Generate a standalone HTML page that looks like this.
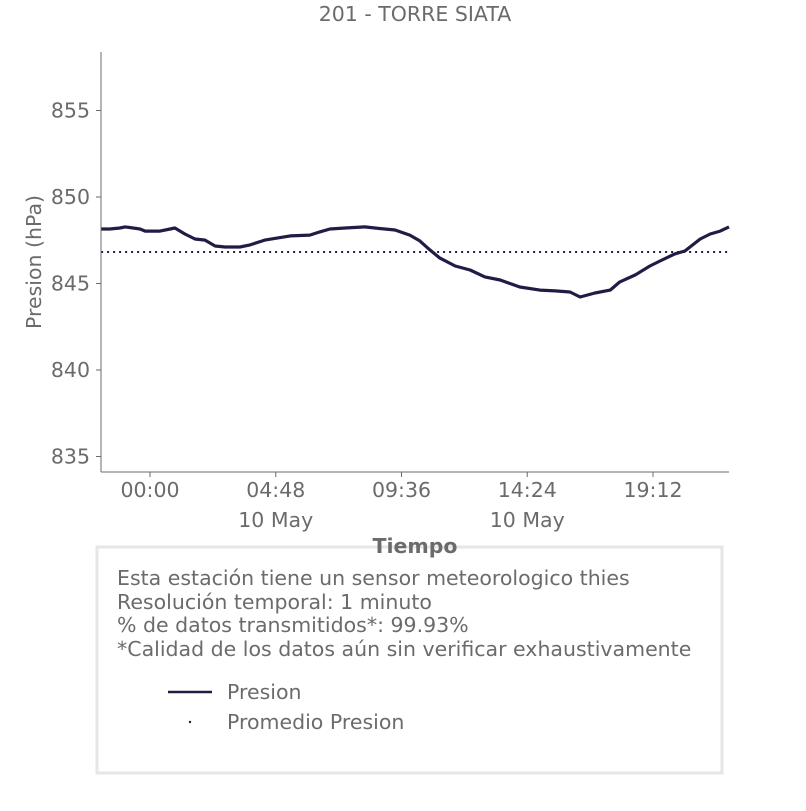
<!DOCTYPE html>
<html><head><meta charset="utf-8"><style>
body{margin:0;background:#fff;}
svg text{font-family:"DejaVu Sans","Liberation Sans",sans-serif;fill:#6b6b6b;}
</style></head><body>
<svg width="806" height="806" viewBox="0 0 806 806">
<text x="415" y="21" font-size="20.5" text-anchor="middle">201 - TORRE SIATA</text>
<g id="plot"></g>
<g id="axes"></g>
<text transform="translate(41,262) rotate(-90)" font-size="20.5" text-anchor="middle">Presion (hPa)</text>
<rect x="97" y="547" width="625" height="226" fill="#fff" stroke="#e6e6e6" stroke-width="3"/>
<text x="415" y="553" font-size="20.5" font-weight="bold" text-anchor="middle">Tiempo</text>
<g font-size="20.5">
<text x="117" y="585">Esta estación tiene un sensor meteorologico thies</text>
<text x="117" y="609">Resolución temporal: 1 minuto</text>
<text x="117" y="632">% de datos transmitidos*: 99.93%</text>
<text x="117" y="656">*Calidad de los datos aún sin verificar exhaustivamente</text>
</g>
<g>
<line x1="168" y1="692" x2="212" y2="692" stroke="#1f1d45" stroke-width="2.5"/>
<text x="227" y="699" font-size="20.5">Presion</text></g>
<g>
<circle cx="190" cy="722" r="1.2" fill="#1f1d45"/>
<text x="227" y="729" font-size="20.5">Promedio Presion</text></g>
</svg>
<script>
const times=[-112,-92,-69,-57,-23,-11,23,46,57,80,103,126,149,172,206,229,263,321,366,389,412,447,492,515,561,595,618,641,664,699,733,767,802,847,893,928,962,985,1019,1054,1076,1111,1145,1168,1202,1225,1260,1283,1306,1326];
const pressure=[848.15,848.15,848.21,848.27,848.15,848.03,848.03,848.15,848.21,847.86,847.57,847.51,847.17,847.11,847.11,847.23,847.51,847.75,847.80,847.98,848.15,848.21,848.27,848.21,848.09,847.80,847.46,846.94,846.47,846.01,845.78,845.38,845.20,844.80,844.62,844.57,844.51,844.22,844.45,844.62,845.09,845.49,846.01,846.30,846.71,846.88,847.57,847.86,848.03,848.27];
const meanPressure=846.82;
const yTicks=[835,840,845,850,855];
const xTickMinutes=[0,288,576,864,1152];
const xTickLabels=["00:00","04:48","09:36","14:24","19:12"];
const xDateLabels=["","10 May","","10 May",""];
const NS="http://www.w3.org/2000/svg";
const X=m=>150+m*125.75/288;
const Y=v=>197-(v-850)*17.3;
const plot=document.getElementById('plot'),axes=document.getElementById('axes');
function mk(tag,attrs,parent){const e=document.createElementNS(NS,tag);for(const k in attrs)e.setAttribute(k,attrs[k]);parent.appendChild(e);return e;}
const mean=mk('line',{x1:X(times[0]),x2:X(times[times.length-1]),y1:Y(meanPressure),y2:Y(meanPressure),stroke:'#1f1d45','stroke-width':2,'stroke-dasharray':'2 4'},plot);


const pts=times.map((t,i)=>X(t).toFixed(1)+','+Y(pressure[i]).toFixed(1)).join(' ');
const line=mk('polyline',{points:pts,fill:'none',stroke:'#1f1d45','stroke-width':3.2,'stroke-linejoin':'round'},plot);


const ya=mk('line',{x1:101,x2:101,y1:52,y2:472,stroke:'#6b6b6b','stroke-width':1},axes);


const xa=mk('line',{x1:101,x2:729,y1:472,y2:472,stroke:'#6b6b6b','stroke-width':1},axes);


yTicks.forEach(v=>{
 mk('line',{x1:96,x2:101,y1:Y(v),y2:Y(v),stroke:'#6b6b6b'},axes);
 const t=mk('text',{x:90,y:Y(v)+7,'font-size':20.5,'text-anchor':'end'},axes);t.textContent=v;
 
 
});
xTickMinutes.forEach((m,i)=>{
 mk('line',{x1:X(m),x2:X(m),y1:472,y2:477,stroke:'#6b6b6b'},axes);
 const t=mk('text',{x:X(m),y:497,'font-size':20.5,'text-anchor':'middle'},axes);t.textContent=xTickLabels[i];
 
 
 if(xDateLabels[i]){const d=mk('text',{x:X(m),y:527,'font-size':20.5,'text-anchor':'middle'},axes);d.textContent=xDateLabels[i];
 
 }
});
</script>
</body></html>
